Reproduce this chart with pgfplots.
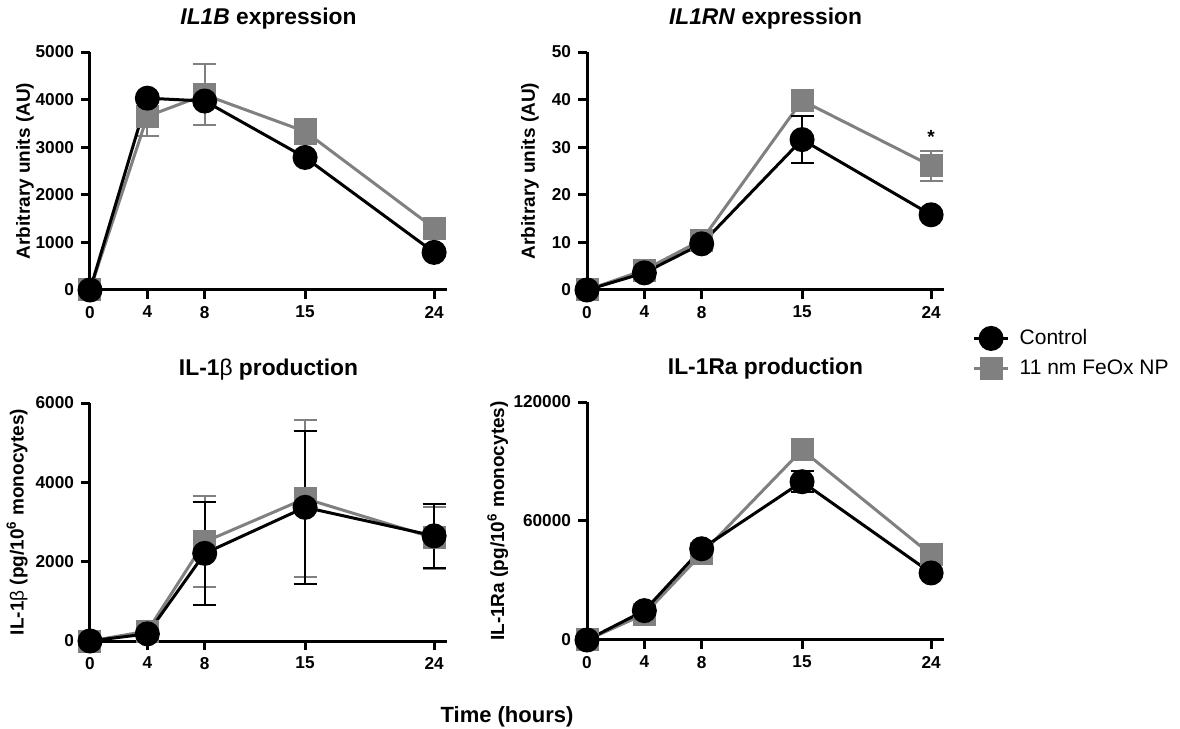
\documentclass[border=0pt]{standalone}
\usepackage{fontspec}
\setmainfont{Liberation Sans}
\usepackage{pgfplots}
\pgfplotsset{compat=1.18}
\definecolor{npgray}{RGB}{128,128,128}

\pgfplotsset{
  panel/.style={
    scale only axis, width=178.5pt, height=119pt,
    anchor=south west,
    axis lines=left, axis line style={line width=1.5pt, -},
    xmin=0, xmax=24.9, ymin=0,
    xtick={0,4,8,15,24},
    tick style={line width=1.5pt, black},
    tick align=outside, major tick length=4.5pt,
    tick label style={font=\fontsize{8.6}{10}\selectfont\bfseries},
    /pgf/number format/assume math mode=true,
    /pgf/number format/fixed,
    /pgf/number format/set thousands separator={},
    scaled ticks=false,
    label style={font=\fontsize{9.5}{11}\selectfont\bfseries},
    title style={font=\fontsize{11.4}{13}\selectfont\bfseries,
      at={(0.5,1)}, anchor=center, yshift=10.5pt},
    clip=false,
  },
  ctrl/.style={black, line width=1.5pt, mark=*, mark size=5.5pt,
    error bars/.cd, y dir=both, y explicit,
    error bar style={line width=1pt, black},
    error mark options={rotate=90, mark size=5.75pt, line width=1pt, black},
    /pgfplots/.cd},
  np/.style={npgray, line width=1.5pt, mark=square*, mark size=5pt,
    error bars/.cd, y dir=both, y explicit,
    error bar style={line width=1pt, npgray},
    error mark options={rotate=90, mark size=5.75pt, line width=1pt, npgray},
    /pgfplots/.cd},
}

\begin{document}
\begin{tikzpicture}
\path[use as bounding box] (0,0) rectangle (590pt,364.5pt);

% IL1B expression
\begin{axis}[panel, at={(45pt,219.5pt)},
  ymax=5000, ytick={0,1000,...,5000},
  title={\textit{IL1B} expression},
  ylabel={Arbitrary units (AU)},
  ylabel style={at={(axis description cs:-0.182,0.5)}, anchor=center}]
\addplot[np] coordinates {(0,0) (4,3650) +- (0,420) (8,4100) +- (0,640) (15,3330) +- (0,265) (24,1300)};
\addplot[ctrl] coordinates {(0,0) (4,4030) (8,3970) (15,2785) (24,790)};
\end{axis}

% IL1RN expression
\begin{axis}[panel, at={(293.5pt,219.5pt)},
  ymax=50, ytick={0,10,...,50},
  title={\textit{IL1RN} expression},
  ylabel={Arbitrary units (AU)},
  ylabel style={at={(axis description cs:-0.16,0.5)}, anchor=center},
  legend style={at={(1.062,-0.13)}, anchor=north west, draw=none, fill=none,
    font=\fontsize{10.5}{12.5}\selectfont, row sep=2pt, column sep=3pt},
  legend cell align=left]
\addlegendimage{black, line width=1.5pt, mark=*, mark size=5.5pt}
\addlegendentry{Control}
\addlegendimage{npgray, line width=1.5pt, mark=square*, mark size=5pt}
\addlegendentry{11 nm FeOx NP}
\addplot[forget plot, np] coordinates {(0,0) (4,4.2) (8,10.5) (15,39.8) (24,26.1) +- (0,3.1)};
\addplot[forget plot, ctrl] coordinates {(0,0) (4,3.6) (8,9.7) (15,31.6) +- (0,5) (24,15.8)};
\node[font=\fontsize{9.5}{10}\selectfont\bfseries] at (axis cs:24,32.2) {*};
\end{axis}

% IL-1beta production
\begin{axis}[panel, at={(45pt,44pt)},
  ymax=6000, ytick={0,2000,4000,6000},
  title={IL-1\textmd{β} production},
  ylabel={IL-1\textmd{β} (pg/10\textsuperscript{6} monocytes)},
  ylabel style={at={(axis description cs:-0.204,0.5)}, anchor=center}]
\addplot[np] coordinates {(0,0) (4,250) (8,2500) +- (0,1150) (15,3590) +- (0,1975) (24,2600) +- (0,780)};
\addplot[ctrl] coordinates {(0,0) (4,180) (8,2210) +- (0,1300) (15,3370) +- (0,1925) (24,2650) +- (0,815)};
\end{axis}

% IL-1Ra production
\begin{axis}[panel, at={(293.5pt,44.5pt)},
  ymax=120000, ytick={0,60000,120000},
  title={IL-1Ra production},
  ylabel={IL-1Ra (pg/10\textsuperscript{6} monocytes)},
  ylabel style={at={(axis description cs:-0.25,0.5)}, anchor=center}]
\addplot[np] coordinates {(0,0) (4,13000) (8,43500) (15,95800) (24,43000)};
\addplot[ctrl] coordinates {(0,0) (4,14800) (8,46000) (15,79800) +- (0,5300) (24,33800)};
\end{axis}

\node[font=\fontsize{11}{13}\selectfont\bfseries] at (253.5pt,6pt) {Time (hours)};
\end{tikzpicture}
\end{document}
